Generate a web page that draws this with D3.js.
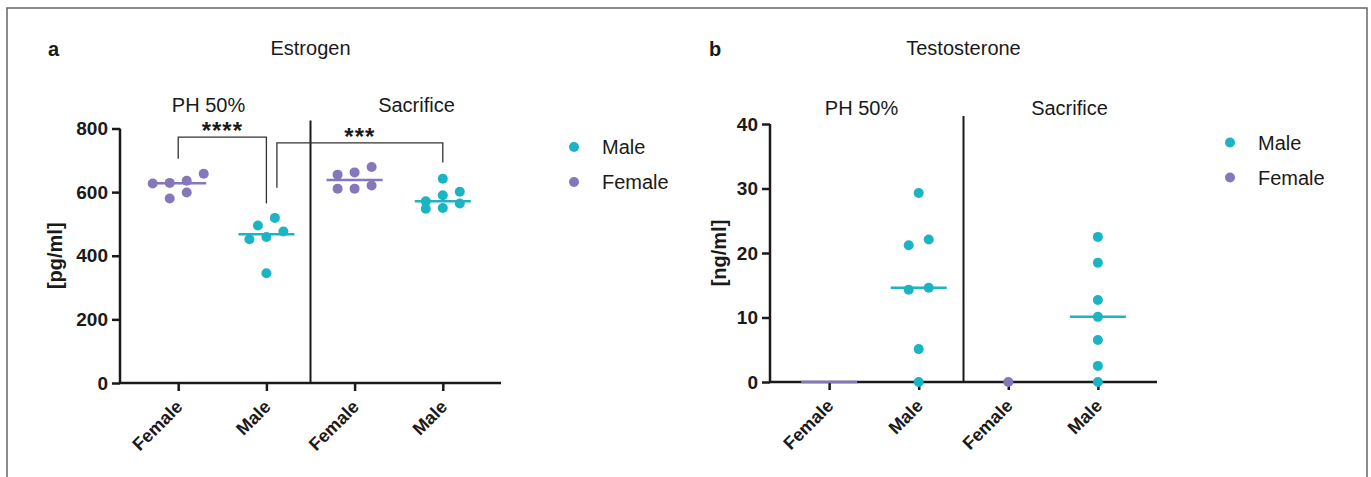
<!DOCTYPE html>
<html>
<head>
<meta charset="utf-8">
<script src="https://cdn.jsdelivr.net/npm/d3@7"></script>
<style>
    body { margin: 0; background: #fff; }
    text { font-family: "Liberation Sans", Arial, sans-serif; fill: #1a1a1a; }
</style>
</head>
<body>
<script>
let width = 1371;
let height = 477;
let teal = "#1bb4c5";
let purple = "#8677bb";

// categories
let groupLabels = ["Female", "Male", "Female", "Male"];
let groupSex = ["Female", "Male", "Female", "Male"];
let phases = ["PH 50%", "Sacrifice"];
let legendLabels = ["Male", "Female"];

// estrogen [pg/ml]
let estrogenPHFemale = [658, 627, 580, 636, 599, 629];
let estrogenPHMale = [476, 519, 452, 495, 459, 345];
let estrogenSacFemale = [679, 611, 662, 621, 655, 611];
let estrogenSacMale = [590, 548, 571, 642, 601, 550, 564];
let estrogenTicks = [0, 200, 400, 600, 800];
// significance brackets: groups joined, top of bracket, leg ends (pg/ml)
let estrogenBrackets = [
    { from: 0, to: 1, top: 773, fromEnd: 705, toEnd: 564, label: "****" },
    { from: 1, to: 3, top: 755, fromEnd: 614, toEnd: 693, label: "***" }
];

// testosterone [ng/ml]
let testoPHFemale = [0, 0, 0, 0, 0, 0];
let testoPHMale = [29.3, 21.2, 22.1, 14.3, 14.6, 5.1, 0];
let testoSacFemale = [0];
let testoSacMale = [22.5, 18.5, 12.7, 10.1, 6.5, 2.5, 0];
let testoTicks = [0, 10, 20, 30, 40];
let testoShowDots = [false, true, true, true];
let testoShowMedian = [true, true, false, true];

let svg = d3.select("body")
    .append("svg")
    .attr("width", width)
    .attr("height", height);

// outer frame
svg.append("rect")
    .attr("x", 7).attr("y", 8)
    .attr("width", 1360).attr("height", 500)
    .attr("fill", "none")
    .attr("stroke", "#666")
    .attr("stroke-width", 1.5);

function colorOf(sex) { return sex == "Male" ? teal : purple; }

// scatter layout: points whose dots would overlap vertically share a row,
// and each row is spread sideways around the group centre (low values left)
function rows(values, y, r, spread) {
    let sorted = values.slice().sort(function(a, b) { return b - a; });
    let out = [];
    let row = [];
    let rowY = null;
    function flush() {
        row.sort(function(a, b) { return a.v - b.v; });
        row.forEach(function(p, k) {
            p.dx = (k - (row.length - 1) / 2) * spread;
            out.push(p);
        });
        row = [];
    }
    sorted.forEach(function(v) {
        let py = y(v);
        if (rowY == null || py - rowY >= 2 * r) {
            flush();
            rowY = py;
        }
        row.push({ v: v, y: py });
    });
    flush();
    return out;
}

function panel(opt) {
    let g = svg.append("g");
    let x = d3.scalePoint().domain([0, 1, 2, 3]).range([opt.x0, opt.x1]).padding(0.66);
    let y = d3.scaleLinear().domain([0, opt.max]).range([opt.y0, opt.y1]);

    // panel letter + title
    g.append("text").attr("x", opt.letterX).attr("y", 56)
        .attr("font-size", 20).attr("font-weight", "bold").text(opt.letter);
    g.append("text").attr("x", (opt.x0 + opt.x1) / 2).attr("y", 55)
        .attr("text-anchor", "middle").attr("font-size", 20).text(opt.title);

    // y axis
    let yAxis = g.append("g")
        .attr("transform", "translate(" + opt.x0 + ",0)")
        .call(d3.axisLeft(y).tickValues(opt.ticks).tickSize(8).tickPadding(4).tickFormat(d3.format("d")));
    yAxis.select(".domain").attr("stroke", "#1a1a1a").attr("stroke-width", 2.5)
        .attr("d", "M0," + opt.y0 + "V" + opt.y1);
    yAxis.selectAll(".tick line").attr("stroke", "#1a1a1a").attr("stroke-width", 2.5);
    yAxis.selectAll(".tick text").attr("font-size", 19).attr("font-weight", "bold")
        .attr("font-family", "Liberation Sans, Arial, sans-serif").attr("fill", "#1a1a1a");

    // x axis
    let xAxis = g.append("g")
        .attr("transform", "translate(0," + opt.y0 + ")")
        .call(d3.axisBottom(x).tickSize(8).tickFormat(function(d) { return groupLabels[d]; }));
    xAxis.select(".domain").attr("stroke", "#1a1a1a").attr("stroke-width", 2.5)
        .attr("d", "M" + opt.x0 + ",0H" + opt.x1);
    xAxis.selectAll(".tick line").attr("stroke", "#1a1a1a").attr("stroke-width", 2.5);
    xAxis.selectAll(".tick text")
        .attr("font-size", 18).attr("font-weight", "bold")
        .attr("font-family", "Liberation Sans, Arial, sans-serif").attr("fill", "#1a1a1a")
        .attr("text-anchor", "end")
        .attr("dy", null)
        .attr("y", 0)
        .attr("transform", "translate(5,25) rotate(-45)");

    // y axis title
    g.append("text")
        .attr("transform", "translate(" + opt.labelX + "," + ((opt.y0 + opt.y1) / 2) + ") rotate(-90)")
        .attr("text-anchor", "middle").attr("font-size", 20).attr("font-weight", "bold")
        .text(opt.unit);

    // divider between phases
    let divX = (x(1) + x(2)) / 2;
    g.append("line")
        .attr("x1", divX).attr("x2", divX)
        .attr("y1", opt.y0).attr("y2", opt.y1 - 8)
        .attr("stroke", "#1a1a1a").attr("stroke-width", 2);
    g.append("text").attr("x", divX - 102).attr("y", opt.y1 - opt.phaseGap)
        .attr("text-anchor", "middle").attr("font-size", 20).text(phases[0]);
    g.append("text").attr("x", divX + 106).attr("y", opt.y1 - opt.phaseGap)
        .attr("text-anchor", "middle").attr("font-size", 20).text(phases[1]);

    // groups: median line + dots
    let r = 5;
    opt.data.forEach(function(vals, i) {
        let c = colorOf(groupSex[i]);
        let cx = x(i);
        if (opt.showMedian[i]) {
            let m = d3.median(vals);
            g.append("line")
                .attr("x1", cx - 28).attr("x2", cx + 28)
                .attr("y1", y(m)).attr("y2", y(m))
                .attr("stroke", c).attr("stroke-width", 2.5);
        }
        if (opt.showDots[i]) {
            g.selectAll(null)
                .data(rows(vals, y, r, opt.spread))
                .enter().append("circle")
                .attr("cx", function(d) { return cx + d.dx; })
                .attr("cy", function(d) { return d.y; })
                .attr("r", r)
                .attr("fill", c);
        }
    });

    // significance brackets
    let ends = {};
    opt.brackets.forEach(function(b) {
        let xa = x(b.from) + (ends[b.from] ? 10.5 : 0);
        let xb = x(b.to);
        ends[b.to] = true;
        g.append("path")
            .attr("d", "M" + xa + "," + y(b.fromEnd) + "V" + y(b.top) + "H" + xb + "V" + y(b.toEnd))
            .attr("fill", "none").attr("stroke", "#333").attr("stroke-width", 1.3);
        g.append("text")
            .attr("x", (xa + xb) / 2).attr("y", y(b.top) + 2)
            .attr("text-anchor", "middle").attr("font-size", 24).attr("font-weight", "bold")
            .attr("letter-spacing", 1)
            .text(b.label);
    });

    // legend
    let lg = g.append("g");
    legendLabels.forEach(function(lab, i) {
        let ly = opt.y1 + 18.5 + i * 35;
        lg.append("circle").attr("cx", opt.x1 + 73).attr("cy", ly).attr("r", 5)
            .attr("fill", colorOf(lab));
        lg.append("text").attr("x", opt.x1 + 101).attr("y", ly + 7)
            .attr("font-size", 20).text(lab);
    });
}

panel({
    letter: "a", letterX: 48, title: "Estrogen", unit: "[pg/ml]", labelX: 62,
    x0: 120, x1: 501, y0: 383, y1: 128.5, max: 800, ticks: estrogenTicks,
    phaseGap: 17, spread: 17,
    data: [estrogenPHFemale, estrogenPHMale, estrogenSacFemale, estrogenSacMale],
    showDots: [true, true, true, true], showMedian: [true, true, true, true],
    brackets: estrogenBrackets
});

panel({
    letter: "b", letterX: 709, title: "Testosterone", unit: "[ng/ml]", labelX: 726,
    x0: 770, x1: 1157, y0: 382, y1: 124, max: 40, ticks: testoTicks,
    phaseGap: 9, spread: 20,
    data: [testoPHFemale, testoPHMale, testoSacFemale, testoSacMale],
    showDots: testoShowDots, showMedian: testoShowMedian,
    brackets: []
});
</script>
</body>
</html>
